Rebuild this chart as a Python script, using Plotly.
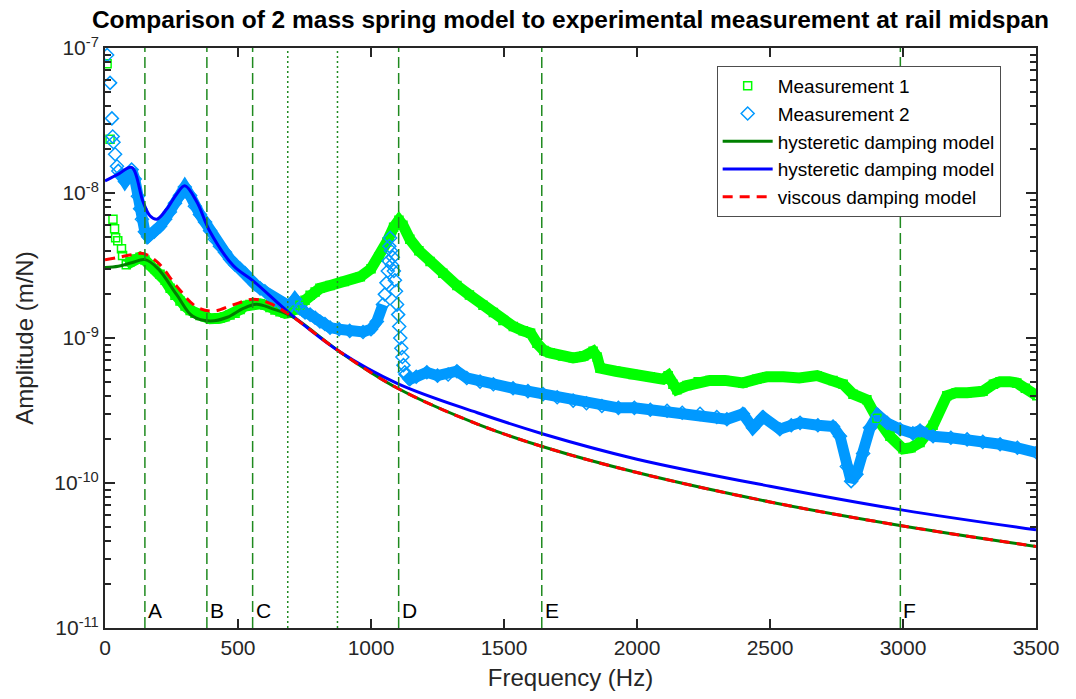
import plotly.graph_objects as go

# ---------------- data ----------------
title_text = "Comparison of 2 mass spring model to experimental measurement at rail midspan"

# Measurement 1 (green squares)
m1_sparse_f = [8, 19, 30, 36, 40, 48, 62, 66]
m1_sparse_a = [7.8e-8, 2.35e-8, 6.6e-9, 5.66e-9, 4.92e-9, 4.69e-9, 4.13e-9, 3.7e-9]
m1_band_f = [80, 94, 115, 132, 150, 170, 188, 207, 226, 245, 263, 282, 301, 320, 338, 357,
             376, 395, 413, 432, 451, 470, 489, 508, 526, 545, 564, 583, 601, 620, 639, 658,
             677, 695, 714, 733, 752, 771, 790, 808, 846, 900, 960, 1000, 1030, 1060, 1085,
             1105, 1120, 1146, 1180, 1222, 1270, 1323, 1370, 1421, 1460, 1496, 1535, 1572,
             1600, 1624, 1650, 1673, 1720, 1760, 1800, 1835, 1850, 1861, 1920, 1985, 2050,
             2098, 2117, 2135, 2150, 2188, 2230, 2274, 2330, 2398, 2450, 2488, 2550, 2610,
             2677, 2737, 2775, 2812, 2864, 2902, 2951, 3000, 3030, 3064, 3113, 3165, 3200,
             3241, 3301, 3340, 3365, 3400, 3428, 3460, 3503]
m1_band_a = [3.2e-9, 3.35e-9, 3.5e-9, 3.6e-9, 3.45e-9, 3.2e-9, 3.0e-9, 2.75e-9, 2.5e-9, 2.2e-9,
             1.97e-9, 1.8e-9, 1.66e-9, 1.55e-9, 1.48e-9, 1.43e-9, 1.4e-9, 1.36e-9, 1.35e-9,
             1.37e-9, 1.4e-9, 1.44e-9, 1.48e-9, 1.57e-9, 1.66e-9, 1.7e-9, 1.73e-9, 1.72e-9,
             1.69e-9, 1.62e-9, 1.56e-9, 1.52e-9, 1.48e-9, 1.5e-9, 1.56e-9, 1.68e-9, 1.82e-9,
             1.97e-9, 2.08e-9, 2.2e-9, 2.3e-9, 2.45e-9, 2.65e-9, 3.0e-9, 3.6e-9, 4.6e-9,
             5.8e-9, 6.5e-9, 6.0e-9, 4.8e-9, 4.0e-9, 3.37e-9, 2.8e-9, 2.3e-9, 1.98e-9,
             1.68e-9, 1.5e-9, 1.32e-9, 1.2e-9, 1.12e-9, 1.08e-9, 9.2e-10, 8.2e-10, 7.9e-10,
             7.5e-10, 7.3e-10, 7.5e-10, 8.1e-10, 7.4e-10, 6.2e-10, 5.9e-10, 5.6e-10, 5.4e-10,
             5.2e-10, 5.5e-10, 4.8e-10, 4.4e-10, 4.7e-10, 5.0e-10, 5.1e-10, 5.1e-10, 4.9e-10,
             5.2e-10, 5.4e-10, 5.4e-10, 5.3e-10, 5.5e-10, 5.1e-10, 4.8e-10, 4.1e-10, 3.75e-10,
             2.8e-10, 2.1e-10, 1.72e-10, 1.75e-10, 1.9e-10, 2.5e-10, 4.0e-10, 4.2e-10, 4.2e-10,
             4.3e-10, 4.8e-10, 5.0e-10, 5.0e-10, 4.9e-10, 4.5e-10, 4.0e-10]

# Measurement 2 (blue diamonds)
m2_sparse_f = [8, 19, 26, 29, 32, 38, 45]
m2_sparse_a = [8.95e-8, 5.75e-8, 3.27e-8, 2.45e-8, 2.24e-8, 1.85e-8, 1.53e-8]
m2_band_f = [50, 62, 75, 88, 100, 112, 124, 132, 139, 150, 162, 185, 207, 226, 244, 263, 282,
             300, 320, 338, 357, 376, 395, 413, 432, 451, 470, 489, 508, 526, 545, 564, 583,
             601, 620, 639, 658, 677, 695, 714, 733, 752, 771, 790, 808, 827, 846, 880, 920,
             970, 1000, 1022, 1045]
m2_band_a = [1.42e-8, 1.3e-8, 1.2e-8, 1.3e-8, 1.45e-8, 1.25e-8, 9.5e-9, 7.8e-9, 6.6e-9, 5.4e-9,
             5.0e-9, 5.4e-9, 5.9e-9, 6.6e-9, 7.4e-9, 8.5e-9, 9.6e-9, 1.1e-8, 9.6e-9, 8.1e-9,
             7.1e-9, 6.3e-9, 5.5e-9, 4.8e-9, 4.3e-9, 3.9e-9, 3.5e-9, 3.2e-9, 3.0e-9, 2.8e-9,
             2.55e-9, 2.35e-9, 2.2e-9, 2.1e-9, 1.95e-9, 1.82e-9, 1.75e-9, 1.68e-9, 1.65e-9,
             1.85e-9, 1.6e-9, 1.5e-9, 1.45e-9, 1.38e-9, 1.3e-9, 1.25e-9, 1.18e-9, 1.15e-9,
             1.12e-9, 1.1e-9, 1.15e-9, 1.3e-9, 1.7e-9]
# sparse diamonds around the D resonance
m2_peak_f = [1052, 1058, 1063, 1066, 1069, 1072, 1075, 1078, 1082, 1086, 1090, 1094, 1098, 1102,
             1106, 1110, 1114, 1118, 1122, 1127]
m2_peak_a = [2.0e-9, 2.4e-9, 2.9e-9, 3.4e-9, 4.3e-9, 4.9e-9, 4.0e-9, 3.2e-9, 3.6e-9, 2.9e-9,
             2.5e-9, 2.1e-9, 1.7e-9, 1.45e-9, 1.2e-9, 1.0e-9, 8.5e-10, 7.4e-10, 6.5e-10, 5.8e-10]
m2_band2_f = [1130, 1146, 1170, 1210, 1250, 1290, 1323, 1360, 1410, 1460, 1534, 1590, 1647, 1700,
              1760, 1810, 1868, 1930, 1990, 2050, 2113, 2170, 2237, 2300, 2338, 2398, 2436, 2474,
              2537, 2580, 2613, 2680, 2737, 2763, 2789, 2805, 2825, 2850, 2876, 2905, 2940,
              2989, 3037, 3064, 3113, 3180, 3241, 3300, 3365, 3430, 3503]
m2_band2_a = [5.6e-10, 5.2e-10, 5.4e-10, 5.8e-10, 5.5e-10, 5.6e-10, 5.9e-10, 5.3e-10, 5.0e-10,
              4.8e-10, 4.5e-10, 4.3e-10, 4.1e-10, 3.9e-10, 3.7e-10, 3.55e-10, 3.4e-10, 3.3e-10,
              3.3e-10, 3.2e-10, 3.15e-10, 3.05e-10, 3.0e-10, 2.85e-10, 2.75e-10, 3.0e-10,
              2.4e-10, 2.85e-10, 2.35e-10, 2.5e-10, 2.6e-10, 2.5e-10, 2.45e-10, 2.1e-10, 1.3e-10,
              1.03e-10, 1.15e-10, 1.6e-10, 2.4e-10, 2.95e-10, 2.6e-10, 2.35e-10, 2.2e-10,
              2.3e-10, 2.1e-10, 2.05e-10, 2.0e-10, 1.92e-10, 1.85e-10, 1.75e-10, 1.62e-10]

# Hysteretic damping model fitted to measurement 1 (green)
hg_f = [0, 50, 100, 150, 200, 270, 330, 395, 460, 520, 570, 630, 700, 880, 1100, 1400, 1650,
        2000, 2500, 3000, 3500]
hg_a = [3.06e-9, 3.12e-9, 3.3e-9, 3.47e-9, 3.0e-9, 1.98e-9, 1.41e-9, 1.31e-9, 1.39e-9, 1.6e-9,
        1.71e-9, 1.59e-9, 1.42e-9, 8.1e-10, 4.5e-10, 2.55e-10, 1.77e-10, 1.18e-10, 7.4e-11,
        5.05e-11, 3.65e-11]

# Hysteretic damping model fitted to measurement 2 (blue)
hb_f = [0, 50, 100, 143, 169, 195, 232, 269, 300, 345, 395, 482, 560, 700, 880, 1100, 1400,
        1650, 2000, 2500, 3000, 3500]
hb_a = [1.21e-8, 1.35e-8, 1.5e-8, 8.7e-9, 6.97e-9, 6.6e-9, 7.75e-9, 9.8e-9, 1.12e-8, 8.7e-9,
        5.4e-9, 3.16e-9, 2.45e-9, 1.45e-9, 8.1e-10, 4.85e-10, 3.05e-10, 2.17e-10, 1.46e-10,
        9.5e-11, 6.5e-11, 4.75e-11]

# Viscous damping model (red dashed)
vd_f = [0, 50, 100, 145, 200, 270, 340, 405, 480, 557, 620, 700, 880, 1100, 1400, 1650, 2000,
        2500, 3000, 3500]
vd_a = [3.47e-9, 3.6e-9, 3.75e-9, 3.82e-9, 3.3e-9, 2.27e-9, 1.66e-9, 1.53e-9, 1.69e-9, 1.85e-9,
        1.73e-9, 1.42e-9, 8.1e-10, 4.5e-10, 2.55e-10, 1.77e-10, 1.18e-10, 7.4e-11, 5.05e-11,
        3.65e-11]

# Marked frequencies
mode_f = [150, 383, 555, 1104, 1642, 2990]
mode_labels = ["A", "B", "C", "D", "E", "F"]
dotted_f = [687, 874]

x_ticks = [0, 500, 1000, 1500, 2000, 2500, 3000, 3500]
y_decades = [-11, -10, -9, -8, -7]

# ---------------- styling ----------------
FONT = "Liberation Sans, Arial, Helvetica, sans-serif"
AX = "#262626"
C_M1 = "#00ff00"
C_M2 = "#0099ff"
C_HG = "#008000"
C_HB = "#0000ff"
C_VD = "#ff0000"
C_VL = "#1f8a1f"

# page body has an 8px margin; compensate so the figure lands where the reference is
W, H = 1068, 691

fig = go.Figure()

# measurement bands (no legend)
fig.add_trace(go.Scatter(x=m1_band_f, y=m1_band_a, mode="lines", showlegend=False,
                         line=dict(color=C_M1, width=11), hoverinfo="skip"))
fig.add_trace(go.Scatter(x=m2_band_f, y=m2_band_a, mode="lines", showlegend=False,
                         line=dict(color=C_M2, width=11), hoverinfo="skip"))
fig.add_trace(go.Scatter(x=m2_band2_f, y=m2_band2_a, mode="lines", showlegend=False,
                         line=dict(color=C_M2, width=11), hoverinfo="skip"))
# measurement markers
fig.add_trace(go.Scatter(x=m1_sparse_f + m1_band_f, y=m1_sparse_a + m1_band_a, mode="markers",
                         name="Measurement 1",
                         marker=dict(symbol="square-open", size=8, color=C_M1,
                                     line=dict(width=1.5, color=C_M1))))
fig.add_trace(go.Scatter(x=m2_sparse_f + m2_band_f + m2_peak_f + m2_band2_f,
                         y=m2_sparse_a + m2_band_a + m2_peak_a + m2_band2_a, mode="markers",
                         name="Measurement 2",
                         marker=dict(symbol="diamond-open", size=10, color=C_M2,
                                     line=dict(width=1.5, color=C_M2))))
# models
fig.add_trace(go.Scatter(x=hg_f, y=hg_a, mode="lines", name="hysteretic damping model",
                         line=dict(color=C_HG, width=3, shape="spline", smoothing=1.0)))
fig.add_trace(go.Scatter(x=hb_f, y=hb_a, mode="lines", name="hysteretic damping model",
                         line=dict(color=C_HB, width=3, shape="spline", smoothing=1.0)))
fig.add_trace(go.Scatter(x=vd_f, y=vd_a, mode="lines", name="viscous damping model",
                         line=dict(color=C_VD, width=3, dash="10px,7px", shape="spline",
                                   smoothing=1.0)))

shapes = []
for f in mode_f:
    shapes.append(dict(type="line", xref="x", yref="paper", x0=f, x1=f, y0=0, y1=1,
                       layer="above", line=dict(color=C_VL, width=1.5, dash="11px,5px")))
for f in dotted_f:
    shapes.append(dict(type="line", xref="x", yref="paper", x0=f, x1=f, y0=0, y1=1,
                       layer="above", line=dict(color=C_VL, width=1.5, dash="2px,3px")))

annotations = []
for f, lab in zip(mode_f, mode_labels):
    annotations.append(dict(x=f, y=0.03, xref="x", yref="paper", text=lab, showarrow=False,
                            xanchor="left", yanchor="middle", xshift=1,
                            font=dict(family=FONT, size=21, color="#000000")))

minor_vals = [m * 10.0 ** d for d in y_decades[:-1] for m in range(2, 10)]

fig.update_layout(
    width=W, height=H,
    margin=dict(l=97, r=40, t=40, b=67),
    paper_bgcolor="white", plot_bgcolor="white",
    font=dict(family=FONT, size=21, color=AX),
    title=dict(text="<b>" + title_text + "</b>", x=0.5, xref="paper", xanchor="center",
               y=1 - 3 / H, yref="container", yanchor="top", pad=dict(t=0, b=0),
               font=dict(family=FONT, size=24.5, color="#000000")),
    shapes=shapes,
    annotations=annotations,
    legend=dict(x=0.657, y=0.969, xanchor="left", yanchor="top",
                bgcolor="white", bordercolor="#4d4d4d", borderwidth=1,
                font=dict(family=FONT, size=19, color="#000000"),
                itemwidth=50, tracegroupgap=0),
    xaxis=dict(range=[0, 3500], tickvals=x_ticks, ticks="inside", ticklen=9, tickwidth=1.5,
               tickcolor=AX, showline=True, linewidth=2, linecolor=AX, mirror="ticks",
               showgrid=False, zeroline=False,
               title=dict(text="Frequency (Hz)", font=dict(size=24, color=AX), standoff=11)),
    yaxis=dict(type="log", range=[-11, -7], tickvals=[10.0 ** d for d in y_decades],
               ticktext=["10<sup>%d</sup>" % d for d in y_decades],
               ticks="inside", ticklen=10, tickwidth=1.5, tickcolor=AX,
               showline=True, linewidth=2, linecolor=AX, mirror="ticks",
               showgrid=False, zeroline=False,
               minor=dict(tickvals=minor_vals, ticks="inside", ticklen=6, tickwidth=1.5,
                          tickcolor=AX, showgrid=False),
               title=dict(text="Amplitude (m/N)", font=dict(size=24, color=AX), standoff=14)),
)

fig.write_html("out.html", config={"displayModeBar": False})
